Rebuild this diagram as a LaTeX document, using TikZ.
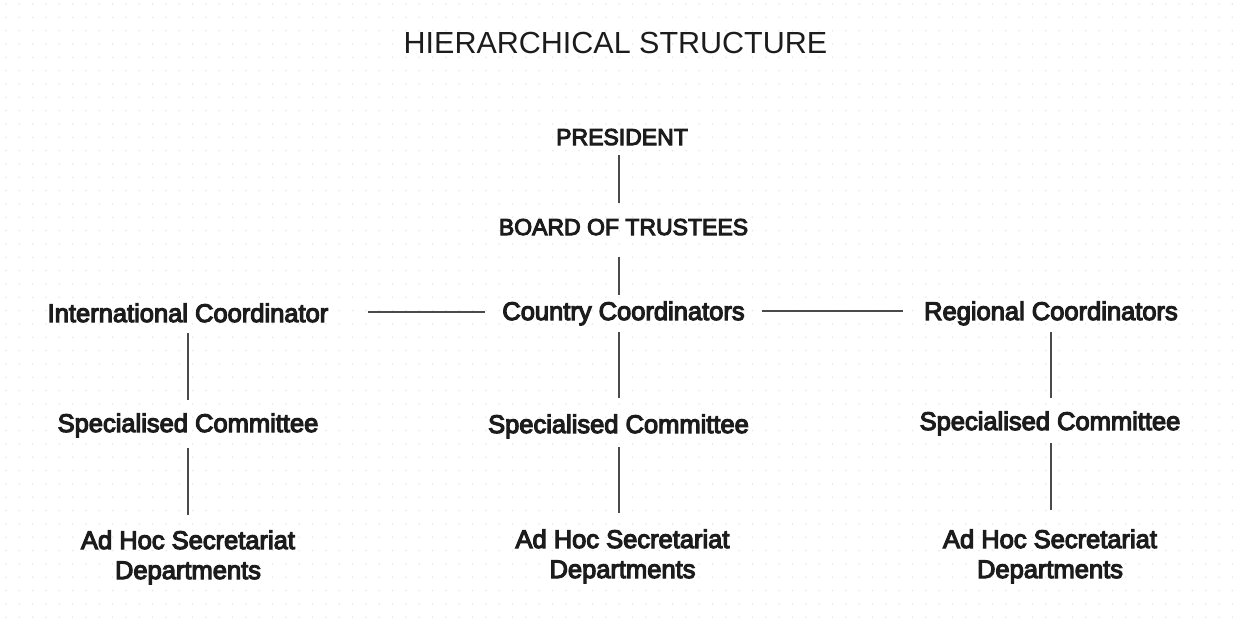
\documentclass[tikz,border=0pt]{standalone}
\usepackage{fontspec}
\setmainfont{Liberation Sans}
\newfontfamily\labelfont{Liberation Sans}[FakeBold=4.5]
\definecolor{ink}{HTML}{1C1C1C}
\definecolor{linkc}{HTML}{4A4A4A}
\definecolor{dotc}{HTML}{E8E8E8}
\begin{document}
\begin{tikzpicture}[x=1pt,y=-1pt,
  lbl/.style={inner sep=0pt, anchor=base, text=ink,
    font=\labelfont\fontsize{25.5}{30}\selectfont,
    text height=18pt, text depth=5pt},
  caps/.style={lbl, font=\labelfont\fontsize{23}{28}\selectfont, text height=17pt},
  multi/.style={inner sep=0pt, anchor=base, text=ink,
    font=\labelfont\fontsize{25.5}{30}\selectfont},
  link/.style={draw=linkc, line width=1.3pt}
]
\useasboundingbox (0,0) rectangle (1240,619);
\fill[white] (0,0) rectangle (1240,619);
\foreach \i in {0,...,92}{
  \foreach \j in {0,...,46}{
    \fill[dotc] ({6+\i*13.33},{4+\j*13.33}) circle (0.9pt);
  }
}

% title
\node[inner sep=0pt, anchor=base, text=ink, font=\fontsize{30.5}{36}\selectfont]
  (title) at (615.5,53) {HIERARCHICAL STRUCTURE};

% middle column
\node[caps] (pres) at (622,145) {PRESIDENT};
\node[caps] (board) at (623.5,235) {BOARD OF TRUSTEES};
\node[lbl, minimum width=244pt] (country) at (623.5,320) {Country Coordinators};
\node[lbl] (specM) at (618.5,433) {Specialised Committee};
\node[multi] (adhocM) at (622.5,548)
  {\begin{tabular}[t]{@{}c@{}}Ad Hoc Secretariat\\Departments\end{tabular}};

% left column
\node[lbl, minimum width=283pt] (intl) at (188,322) {International Coordinator};
\node[lbl] (specL) at (188,432) {Specialised Committee};
\node[multi] (adhocL) at (188,549)
  {\begin{tabular}[t]{@{}c@{}}Ad Hoc Secretariat\\Departments\end{tabular}};

% right column
\node[lbl, minimum width=248pt] (regional) at (1051,320) {Regional Coordinators};
\node[lbl] (specR) at (1050,430) {Specialised Committee};
\node[multi] (adhocR) at (1050,548)
  {\begin{tabular}[t]{@{}c@{}}Ad Hoc Secretariat\\Departments\end{tabular}};

% guide coordinates
\coordinate (lx) at (188,0);
\coordinate (mx) at (619,0);
\coordinate (rx) at (1051,0);
\coordinate (hl) at (0,312);
\coordinate (hr) at (0,311);

% middle connectors
\draw[link, shorten <=5pt, shorten >=15pt] (pres.south -| mx) -- (board.north -| mx);
\draw[link, shorten <=17pt, shorten >=7pt] (board.south -| mx) -- (country.north -| mx);
\draw[link, shorten <=7pt, shorten >=17pt] (country.south -| mx) -- (specM.north -| mx);
\draw[link, shorten <=9pt, shorten >=14pt] (specM.south -| mx) -- (adhocM.north -| mx);

% left connectors
\draw[link, shorten <=6pt, shorten >=14pt] (intl.south -| lx) -- (specL.north -| lx);
\draw[link, shorten <=11pt, shorten >=13pt] (specL.south -| lx) -- (adhocL.north -| lx);

% right connectors
\draw[link, shorten <=7pt, shorten >=14pt] (regional.south -| rx) -- (specR.north -| rx);
\draw[link, shorten <=8pt, shorten >=17pt] (specR.south -| rx) -- (adhocR.north -| rx);

% horizontal connectors
\draw[link, shorten <=38.5pt, shorten >=16.5pt] (intl.east |- hl) -- (country.west |- hl);
\draw[link, shorten <=16.5pt, shorten >=21pt] (country.east |- hr) -- (regional.west |- hr);
\end{tikzpicture}
\end{document}
